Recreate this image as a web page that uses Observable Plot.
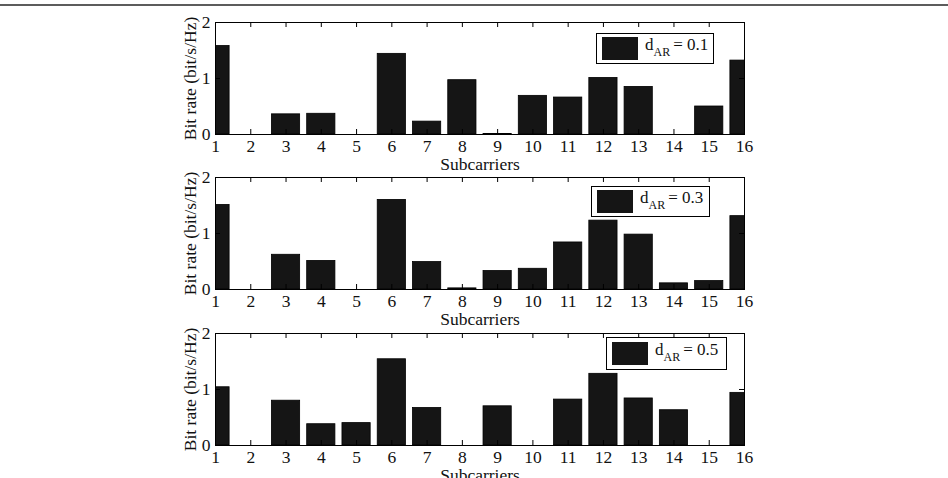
<!DOCTYPE html>
<html>
<head>
<meta charset="utf-8">
<script src="https://cdn.jsdelivr.net/npm/d3@7"></script>
<script src="https://cdn.jsdelivr.net/npm/@observablehq/plot@0.6"></script>
<style>
  html, body { margin: 0; padding: 0; background: #fff; overflow: hidden; width: 948px; height: 478px; }
  #chart { position: relative; width: 948px; height: 478px; font-family: "Liberation Serif", "Times New Roman", serif; }
  .topline { position: absolute; left: 0; top: 4px; width: 948px; height: 2px; background: #5c5c5c; }
  .panel { position: absolute; left: 0; }
  .legend { position: absolute; box-sizing: border-box; border: 1px solid #000; background: #fff; display: flex; align-items: center; }
  .legend .swatch { width: 36px; height: 23px; background: #151515; margin-left: 5px; margin-right: 7px; flex: none; }
  .legend .txt { font-size: 17px; color: #111; white-space: nowrap; line-height: 1; margin-top: -3px; }
  .legend sub { font-size: 12px; vertical-align: -6px; margin-right: 3px; }
</style>
</head>
<body>
<div id="chart"><div class="topline"></div></div>
<script>
// Subcarrier indices and bit rates (bit/s/Hz) per subcarrier for each d_AR value
const subcarriers = [1, 2, 3, 4, 5, 6, 7, 8, 9, 10, 11, 12, 13, 14, 15, 16];
const rateD01 = [1.58, 0, 0.36, 0.37, 0, 1.44, 0.23, 0.97, 0.01, 0.69, 0.66, 1.01, 0.85, 0, 0.50, 1.32];
const rateD03 = [1.51, 0, 0.62, 0.51, 0, 1.60, 0.49, 0.02, 0.33, 0.37, 0.84, 1.23, 0.98, 0.11, 0.15, 1.31];
const rateD05 = [1.04, 0, 0.80, 0.38, 0.40, 1.54, 0.67, 0, 0.70, 0, 0.82, 1.28, 0.84, 0.63, 0, 0.94];
const dAR = ["0.1", "0.3", "0.5"];
const xTicks = [1, 2, 3, 4, 5, 6, 7, 8, 9, 10, 11, 12, 13, 14, 15, 16];
const yTicks = [0, 1, 2];
const xLabel = "Subcarriers";
const yLabel = "Bit rate (bit/s/Hz)";

const series = [rateD01, rateD03, rateD05];

// Layout of the three stacked axes
const W = 948, mL = 215, mR = 204, mT = 6, mB = 42, innerH = 112;
const innerW = W - mL - mR;
const tickLen = 5;
const fs = 17.5;
const font = "'Liberation Serif', 'Times New Roman', serif";
const svgTops = [16, 171, 327];
const legendBoxes = [
  {left: 596, top: 33, width: 118, height: 31},
  {left: 591, top: 186, width: 119, height: 31},
  {left: 606, top: 337, width: 121, height: 33}
];

const chart = document.getElementById("chart");

series.forEach((rates, i) => {
  const rows = subcarriers.map((s, j) => ({sub: s, rate: rates[j]}));
  const plot = Plot.plot({
    width: W,
    height: mT + innerH + mB,
    marginTop: mT,
    marginBottom: mB,
    marginLeft: mL,
    marginRight: mR,
    style: {background: "transparent", fontFamily: font, fontSize: fs + "px", color: "#000", overflow: "visible"},
    x: {domain: [1, 16]},
    y: {domain: [0, 2]},
    marks: [
      // bars, 0.8 subcarrier wide, clipped to the axes box
      Plot.rectY(rows, {x1: d => d.sub - 0.4, x2: d => d.sub + 0.4, y: "rate", fill: "#151515", stroke: "#000", strokeWidth: 0.8, clip: true}),
      // inward tick marks on all four sides
      Plot.tickX(xTicks, {x: d => d, stroke: "#000", insetTop: innerH - tickLen}),
      Plot.tickX(xTicks, {x: d => d, stroke: "#000", insetBottom: innerH - tickLen}),
      Plot.tickY(yTicks, {y: d => d, stroke: "#000", insetRight: innerW - tickLen}),
      Plot.tickY(yTicks, {y: d => d, stroke: "#000", insetLeft: innerW - tickLen}),
      Plot.frame({stroke: "#000", strokeWidth: 1}),
      Plot.axisX({ticks: xTicks, tickSize: 0, tickPadding: 5, label: null, fontSize: fs, fill: "#111", tickFormat: d => String(d)}),
      Plot.axisY({ticks: yTicks, tickSize: 0, tickPadding: 5, label: null, fontSize: fs, fill: "#111", tickFormat: d => String(d)}),
      Plot.text([yLabel], {text: d => d, frameAnchor: "left", rotate: -90, dx: -25, textAnchor: "middle", lineAnchor: "middle", fontSize: fs, fill: "#111"}),
      Plot.text([xLabel], {text: d => d, frameAnchor: "bottom", dy: 30, textAnchor: "middle", lineAnchor: "middle", fontSize: fs, fill: "#111"})
    ]
  });
  const holder = document.createElement("div");
  holder.className = "panel";
  holder.style.top = svgTops[i] + "px";
  holder.appendChild(plot);
  chart.appendChild(holder);

  // legend box for this axes
  const b = legendBoxes[i];
  const lg = document.createElement("div");
  lg.className = "legend";
  Object.assign(lg.style, {left: b.left + "px", top: b.top + "px", width: b.width + "px", height: b.height + "px"});
  lg.innerHTML = `<div class="swatch"></div><div class="txt">d<sub>AR</sub>= ${dAR[i]}</div>`;
  chart.appendChild(lg);
});
</script>
</body>
</html>
